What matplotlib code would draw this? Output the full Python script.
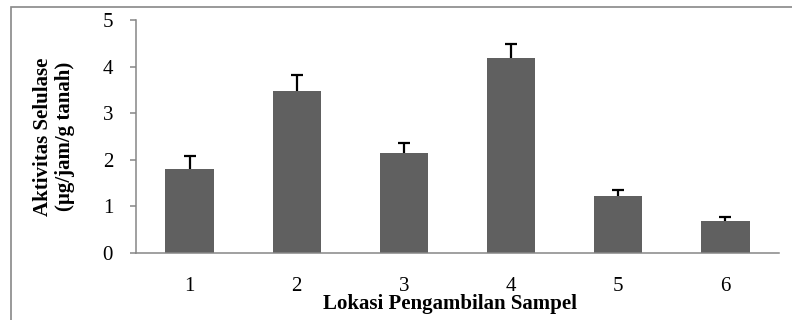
import matplotlib.pyplot as plt
from matplotlib.patches import Rectangle

# data
lokasi = ["1", "2", "3", "4", "5", "6"]
aktivitas = [1.80, 3.48, 2.14, 4.18, 1.22, 0.68]
galat = [0.28, 0.34, 0.23, 0.30, 0.13, 0.09]

plt.rcParams["font.family"] = ["Liberation Serif", "DejaVu Serif"]

fig = plt.figure(figsize=(7.92, 3.2), dpi=100)
ax = fig.add_axes([136 / 792, 1 - 253 / 320, (779 - 136) / 792, (253 - 20) / 320])

x = list(range(len(lokasi)))
ax.bar(x, aktivitas, width=0.45, color="#606060", zorder=2)

# only the upper half of the error bar, one cap at the top
puncak = [a + g for a, g in zip(aktivitas, galat)]
ax.vlines(x, aktivitas, puncak, color="black", linewidth=1.6, zorder=3)
ax.plot(x, puncak, linestyle="none", marker="_", markersize=8,
        markeredgewidth=1.6, color="black", zorder=3)

ax.set_xlim(-0.5, len(lokasi) - 0.5)
ax.set_ylim(0, 5)
ax.set_xticks(x)
ax.set_xticklabels(lokasi)
ax.set_yticks([0, 1, 2, 3, 4, 5])

for side in ["top", "right"]:
    ax.spines[side].set_visible(False)
for side in ["left", "bottom"]:
    ax.spines[side].set_color("#868686")
    ax.spines[side].set_linewidth(1.1)

ax.tick_params(axis="y", direction="out", length=4.5, width=1.1, color="#868686",
               labelsize=15, pad=12)
ax.tick_params(axis="x", length=0, labelsize=15, pad=17)

ax.set_xlabel("Lokasi Pengambilan Sampel", fontsize=15, fontweight="bold")
ax.xaxis.set_label_coords(0.488, -0.178)
ax.set_ylabel("Aktivitas Selulase\n(µg/jam/g tanah)", fontsize=15, fontweight="bold",
              linespacing=1.1, labelpad=20)

# gray frame around the chart area
fig.patches.append(Rectangle((11 / 792, -0.1), 1.2, 1 - 7 / 320 + 0.1,
                             transform=fig.transFigure, fill=False,
                             edgecolor="#888888", linewidth=1.2))

fig.savefig("out.png", dpi=100)
